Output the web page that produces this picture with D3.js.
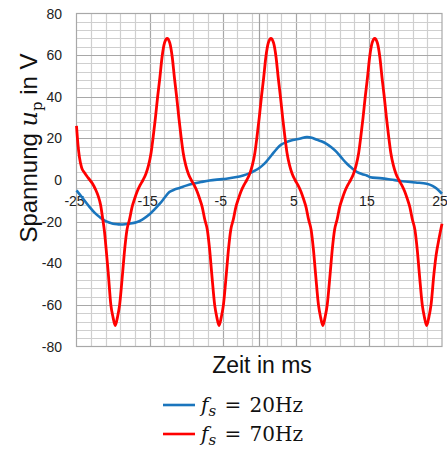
<!DOCTYPE html>
<html>
<head>
<meta charset="utf-8">
<script src="https://cdn.jsdelivr.net/npm/d3@7"></script>
<style>
  body { margin: 0; background: #fff; }
  svg { display: block; }
</style>
</head>
<body>
<script>
// values
const xTicks = [-25, -15, -5, 5, 15, 25];
const yTicks = [80, 60, 40, 20, 0, -20, -40, -60, -80];

// f_s = 20 Hz (blue)
const blueT = [-25, -24.2, -23.2, -22.5, -21.8, -21, -20, -19.3, -18.7, -17.8, -16.8, -16, -15, -14.3, -13.6, -12.9, -12.3, -11.6, -10.9, -10, -9.1, -8, -6.8, -5.4, -4.5, -3.3, -2.2, -1.3, -0.6, 0.1, 0.6, 1, 1.7, 2.4, 3, 3.7, 4.6, 5.5, 6.5, 7.2, 7.9, 8.5, 9.2, 9.9, 10.6, 11.3, 12, 12.7, 13.4, 14.1, 14.7, 15.2, 16.5, 17.7, 18.8, 20, 21.4, 22.9, 23.7, 24.3, 25];
const blueV = [-5, -8.5, -13, -15.8, -17.9, -19.8, -21, -21.3, -21.4, -21, -20.3, -19, -16.5, -14, -11.4, -8.3, -5.8, -4.6, -3.8, -2.7, -1.8, -1, -0.2, 0.3, 0.6, 1.3, 2.2, 3.3, 4.5, 6, 7.5, 9, 12, 15, 17, 18.2, 19.2, 19.8, 20.6, 20.3, 19.3, 18.6, 17.4, 15.6, 13.4, 10.5, 7.8, 5.6, 3.8, 2.8, 2.2, 1.3, 0.9, 0.4, -0.2, -0.7, -1.2, -1.8, -2.8, -4.2, -6.6];

// f_s = 70 Hz (red)
const redT = [-25, -24.8, -24.6, -24.3, -23.9, -23.4, -22.8, -22.4, -22.05, -21.7, -21.4, -21.2, -20.95, -20.65, -20.3, -20, -19.7, -19.4, -19.1, -18.7, -18.4, -18.1, -17.75, -17.4, -17.05, -16.7, -16.3, -15.9,
  -15.5, -15.15, -14.8, -14.5, -14.2, -13.9, -13.6, -13.3, -12.95, -12.6, -12.25, -11.9, -11.6, -11.3, -11, -10.7, -10.4, -10.05, -9.7, -9.3,
  -8.9, -8.5, -8.15, -7.8, -7.45, -7.1, -6.8, -6.5, -6.1, -5.8, -5.5, -5.2, -4.9, -4.5, -4.2, -3.9, -3.55, -3.2, -2.85, -2.5, -2.1, -1.7,
  -1.3, -0.95, -0.6, -0.3, 0, 0.3, 0.6, 0.9, 1.25, 1.6, 1.95, 2.3, 2.6, 2.9, 3.2, 3.5, 3.8, 4.15, 4.5, 4.9,
  5.3, 5.7, 6.05, 6.4, 6.75, 7.1, 7.4, 7.7, 8.1, 8.4, 8.7, 9, 9.3, 9.7, 10, 10.3, 10.65, 11, 11.35, 11.7, 12.1, 12.5,
  12.9, 13.25, 13.6, 13.9, 14.2, 14.5, 14.8, 15.1, 15.45, 15.8, 16.15, 16.5, 16.8, 17.1, 17.4, 17.7, 18, 18.35, 18.7, 19.1,
  19.5, 19.9, 20.25, 20.6, 20.95, 21.3, 21.6, 21.9, 22.3, 22.6, 22.9, 23.2, 23.5, 23.9, 24.2, 24.6, 25];
const redV = [26, 17, 11, 6, 3.5, 1, -1.8, -4.5, -7.5, -12, -19, -24, -33, -45, -60, -66, -70, -66, -60, -45, -33, -24, -19, -13, -9, -5.5, -2.5, 0,
  3, 7, 13, 21, 30, 40, 49, 59, 66, 68, 66, 59, 49, 40, 30, 21, 13, 7, 3, 0,
  -2.5, -5.5, -9, -13, -19, -24, -33, -45, -60, -66, -70, -66, -60, -45, -33, -24, -19, -13, -9, -5.5, -2.5, 0,
  3, 7, 13, 21, 30, 40, 49, 59, 66, 68, 66, 59, 49, 40, 30, 21, 13, 7, 3, 0,
  -2.5, -5.5, -9, -13, -19, -24, -33, -45, -60, -66, -70, -66, -60, -45, -33, -24, -19, -13, -9, -5.5, -2.5, 0,
  3, 7, 13, 21, 30, 40, 49, 59, 66, 68, 66, 59, 49, 40, 30, 21, 13, 7, 3, 0,
  -2.5, -5.5, -9, -13, -19, -24, -33, -45, -60, -66, -70, -66, -60, -45, -36, -28, -21];

const seriesNames = ["20Hz", "70Hz"];
const seriesColors = ["#1a75bd", "#ff0000"];

const W = 447, H = 451;
const margin = { left: 76.5, right: 5, top: 13.5, bottom: 104.5 };

const svg = d3.select("body").append("svg")
  .attr("width", W)
  .attr("height", H);

const x = d3.scaleLinear().domain([-25, 25]).range([margin.left, W - margin.right]);
const y = d3.scaleLinear().domain([-80, 80]).range([H - margin.bottom, margin.top]);

// grid
const grid = svg.append("g");
const minorX = d3.range(-23, 25, 2);
const minorY = d3.range(-76, 80, 4).filter(v => v % 20 !== 0);
const majorY = d3.range(-60, 80, 20);

grid.selectAll(".vminor").data(minorX).enter().append("line")
  .attr("x1", d => Math.round(x(d)) + 0.5).attr("x2", d => Math.round(x(d)) + 0.5)
  .attr("y1", y(80)).attr("y2", y(-80))
  .attr("stroke", d => (d + 25) % 10 === 0 ? "#a8a8a8" : "#cfcfcf")
  .attr("stroke-width", 1.2);

grid.selectAll(".hminor").data(minorY).enter().append("line")
  .attr("x1", x(-25)).attr("x2", x(25))
  .attr("y1", d => Math.round(y(d)) + 0.5).attr("y2", d => Math.round(y(d)) + 0.5)
  .attr("stroke", "#cfcfcf")
  .attr("stroke-width", 1.2);

grid.selectAll(".hmajor").data(majorY).enter().append("line")
  .attr("x1", x(-25)).attr("x2", x(25))
  .attr("y1", d => Math.round(y(d)) + 0.5).attr("y2", d => Math.round(y(d)) + 0.5)
  .attr("stroke", "#a8a8a8")
  .attr("stroke-width", 1.2);

// axis through zero
grid.append("line")
  .attr("x1", Math.round(x(0)) + 0.5).attr("x2", Math.round(x(0)) + 0.5)
  .attr("y1", y(80)).attr("y2", y(-80))
  .attr("stroke", "#a0a0a0").attr("stroke-width", 1.2);

grid.append("rect")
  .attr("x", x(-25)).attr("y", y(80))
  .attr("width", x(25) - x(-25)).attr("height", y(-80) - y(80))
  .attr("fill", "none").attr("stroke", "#a8a8a8").attr("stroke-width", 1.2);

// y tick labels
svg.append("g").selectAll("text").data(yTicks).enter().append("text")
  .attr("x", 62).attr("y", d => y(d) + 5)
  .attr("text-anchor", "end")
  .style("font-family", "Liberation Sans, Arial, sans-serif")
  .style("font-size", "14px")
  .attr("fill", "#222")
  .text(d => d);

// x tick labels, inside the plot under the zero line
svg.append("g").selectAll("text").data(xTicks).enter().append("text")
  .attr("x", d => x(d) - 2).attr("y", y(0) + 26)
  .attr("text-anchor", "middle")
  .style("font-family", "Liberation Sans, Arial, sans-serif")
  .style("font-size", "14px")
  .attr("fill", "#222")
  .text(d => d);

// lines
const blueLine = d3.line()
  .x(d => x(d[0]))
  .y(d => y(d[1]))
  .curve(d3.curveCatmullRom.alpha(0.5));

const redLine = d3.line()
  .x(d => x(d[0]))
  .y(d => y(d[1]))
  .curve(d3.curveMonotoneX);

const blueData = blueT.map((t, i) => [t, blueV[i]]);
const redData = redT.map((t, i) => [t, redV[i]]);

svg.append("path")
  .datum(blueData)
  .attr("d", blueLine)
  .attr("fill", "none")
  .attr("stroke", seriesColors[0])
  .attr("stroke-width", 2.6);

svg.append("path")
  .datum(redData)
  .attr("d", redLine)
  .attr("fill", "none")
  .attr("stroke", seriesColors[1])
  .attr("stroke-width", 2.8)
  .attr("stroke-linejoin", "round");

// axis titles
const ytitle = svg.append("text")
  .attr("transform", `translate(37, 148) rotate(-90)`)
  .attr("text-anchor", "middle")
  .style("font-family", "Liberation Sans, Arial, sans-serif")
  .style("font-size", "24px")
  .attr("fill", "#111");
ytitle.append("tspan").text("Spannung ");
ytitle.append("tspan").text("u")
  .style("font-family", "DejaVu Serif, serif").style("font-style", "italic");
ytitle.append("tspan").text("p").attr("dy", 5)
  .style("font-family", "DejaVu Serif, serif").style("font-size", "15px");
ytitle.append("tspan").text(" in V").attr("dy", -5);

svg.append("text")
  .attr("x", 262).attr("y", 373)
  .attr("text-anchor", "middle")
  .style("font-family", "Liberation Sans, Arial, sans-serif")
  .style("font-size", "23px")
  .attr("fill", "#111")
  .text("Zeit in ms");

// legend
const legend = svg.append("g");
seriesNames.forEach((name, i) => {
  const ly = 405 + i * 29;
  legend.append("line")
    .attr("x1", 163).attr("x2", 195)
    .attr("y1", ly).attr("y2", ly)
    .attr("stroke", seriesColors[i]).attr("stroke-width", 2.6);
  const t = legend.append("text")
    .attr("x", 201).attr("y", ly + 7)
    .style("font-family", "DejaVu Serif, serif")
    .style("font-size", "20px")
    .attr("fill", "#111");
  t.append("tspan").text("f").style("font-style", "italic");
  t.append("tspan").text("s").attr("dy", 4).style("font-style", "italic").style("font-size", "15px");
  t.append("tspan").text(" = " + name).attr("dy", -4).style("word-spacing", "2px");
});
</script>
</body>
</html>
